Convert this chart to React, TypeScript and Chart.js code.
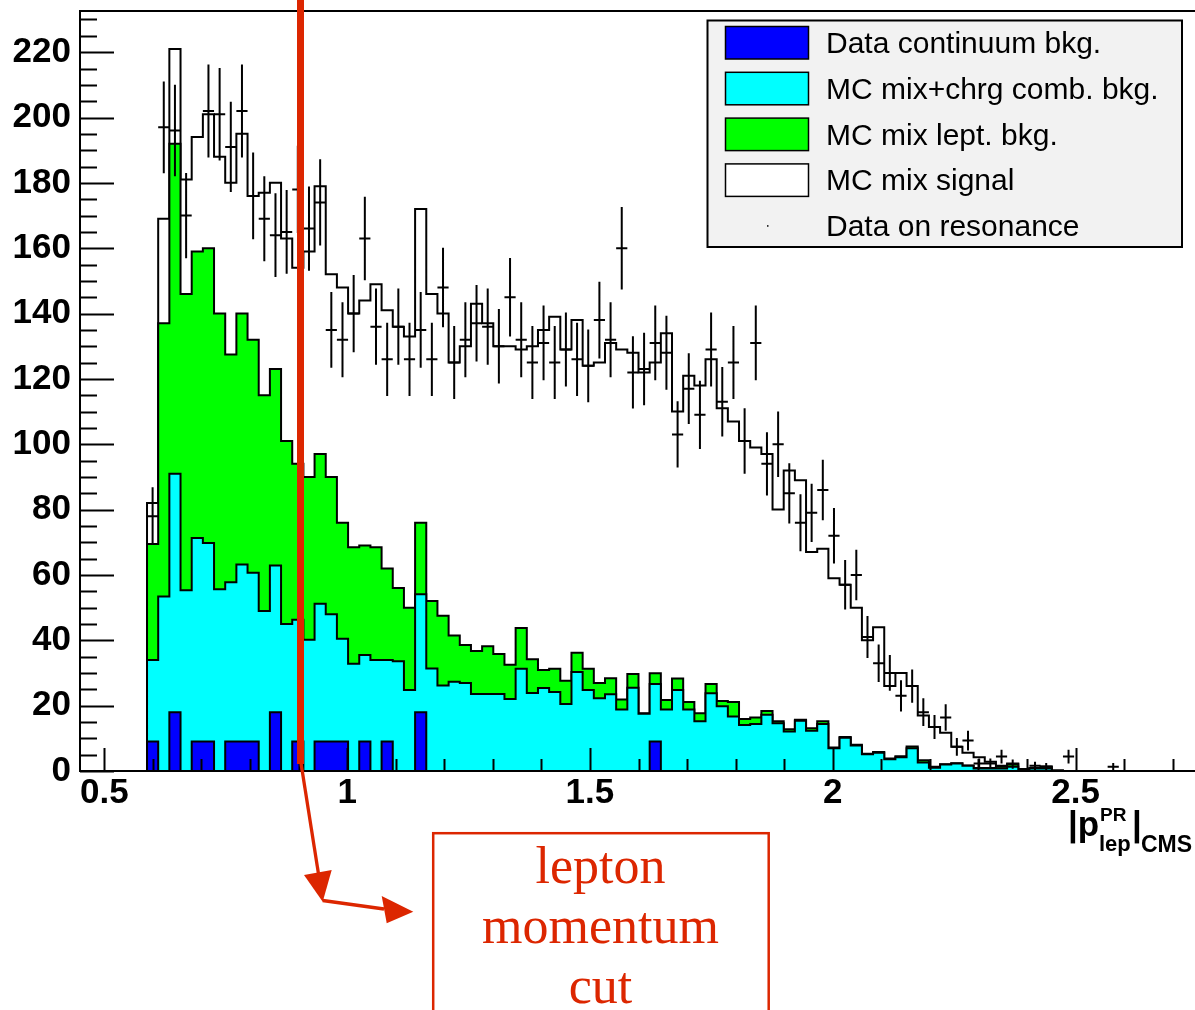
import React, { useEffect, useRef } from 'react';
import { Chart, registerables } from 'chart.js';

Chart.register(...registerables);

// ---------- histogram binning ----------
const BIN_LOW = 0.45;
const BIN_WIDTH = 0.023;
const FIRST_BIN = 6; // first drawn bin (bins below are empty)

// ---------- stack tops per bin (cumulative), bins 6 .. 92 ----------
const continuumTop = [
  9, 0, 18, 0, 9, 9, 0, 9, 9, 9,
  0, 18, 0, 9, 0, 9, 9, 9, 0, 9,
  0, 9, 0, 0, 18, 0, 0, 0, 0, 0,
  0, 0, 0, 0, 0, 0, 0, 0, 0, 0,
  0, 0, 0, 0, 0, 9, 0, 0, 0, 0,
  0, 0, 0, 0, 0, 0, 0, 0, 0, 0,
  0, 0, 0, 0, 0, 0, 0, 0, 0, 0,
  0, 0, 0, 0, 0, 0, 0, 0, 0, 0,
  0, 0, 0, 0, 0, 0, 0,
];
const combTop = [
  34, 53.4, 91, 55.3, 71.3, 69.8, 55.6, 57.8, 63.2, 60.7,
  49, 62.9, 45, 46.3, 40.2, 51.2, 48, 40.5, 32.8, 35.5,
  34, 34, 33.6, 24.8, 54.1, 31.4, 26.2, 27.3, 26.9, 23.6,
  23.6, 23.6, 22, 31.3, 23.9, 25.4, 24.2, 20.5, 30.3, 24.8,
  22.3, 23.5, 18.8, 25.5, 17.5, 26.6, 18.8, 24.8, 18.8, 15.2,
  23.8, 19.8, 16.7, 14.1, 14.4, 17.2, 14.6, 12.1, 15.4, 12.3,
  14.4, 7, 10.2, 7.8, 5.1, 5.6, 3.6, 4.2, 7, 2.6,
  1.0, 2.0, 2.3, 1.6, 0.8, 0.8, 0.8, 1.3, 0.4, 0.8,
  0.8, 0, 0, 0, 0, 0, 0,
];
const leptTop = [
  69.5, 137, 192, 146, 159, 160, 140, 127.5, 140, 132,
  115, 123, 101, 94, 90, 97, 90, 76, 68.5, 69,
  68.5, 62, 56, 50, 76, 52, 47.5, 41.5, 38.6, 36.7,
  38.2, 35.8, 32.5, 43.8, 34.2, 30.9, 31.3, 27.6, 36.2, 31.3,
  26.9, 28.4, 21.9, 29.7, 17.7, 29.9, 21.7, 28.3, 21.1, 17.7,
  26.6, 21.4, 21.1, 15.9, 16.4, 18.4, 15.2, 12.8, 15.7, 13.1,
  15.2, 7.2, 10.4, 8, 5.3, 5.8, 3.8, 4.5, 7.5, 3.3,
  1.3, 2.1, 2.4, 1.7, 0.9, 0.9, 1.3, 2.1, 0.5, 0.8,
  1.3, 0, 0, 0, 0, 0, 0,
];
const signalTop = [
  82, 169, 221, 181, 194, 201, 188, 180, 195, 176,
  177, 180, 163, 154, 159, 179, 152, 148, 140, 144,
  149, 141, 136, 133, 172, 146, 140, 125, 130, 143,
  137, 130, 130, 129, 130, 135, 139, 129, 138, 124,
  125, 131, 129, 128, 122, 125, 134, 110, 121, 118,
  126, 111, 107, 101, 99, 97, 80, 92, 89, 67,
  68, 59, 57, 50, 40, 44, 26, 30, 26, 17,
  13.5, 11.7, 7.4, 5.6, 4.2, 2.8, 1.6, 2.3, 0.6, 0.9,
  1.4, 0.2, 0, 0, 0, 0, 0,
];
const dataOnResonance = [
  78, 197, 196, 170, null, 202, 201, 191, 202, 176,
  169, 164, 165, 178, 166, 174, 135, 132, 140, 163,
  136, 126, 136, 126, 135, 126, 148, 125, 132, 137,
  136, 130, 145, 132, 125, 131, 125, 129, 126, 124,
  138, 132, 160, 122, 123, 131, 128, 103, 117, 109,
  129, 113, 125, 101, 131, 94, 100, 85, 76, 79,
  86, 72, 57, 60, 41, 33, 30, 23, 26, 18,
  13.5, 16.4, 7.4, 9.3, 2.3, 2.3, 4.4, 2.1, null, 1.6,
  1.3, null, 4.4, null, null, null, 1.3,
];

// ---------- axes / legend ----------
const xTickValues = [0.5, 1, 1.5, 2, 2.5];
const yTickValues = [0, 20, 40, 60, 80, 100, 120, 140, 160, 180, 200, 220];
const legendLabels = [
  'Data continuum bkg.',
  'MC mix+chrg comb. bkg.',
  'MC mix lept. bkg.',
  'MC mix signal',
  'Data on resonance',
];
const legendColors = ['#0000ff', '#00ffff', '#00ff00', '#ffffff'];
const annotationLines = ['lepton', 'momentum', 'cut'];

const RED = '#dc2600';
const SANS = "'Liberation Sans', Arial, Helvetica, sans-serif";
const SERIF = "'Liberation Serif', 'Times New Roman', serif";

function binEdge(i: number) {
  return BIN_LOW + BIN_WIDTH * (FIRST_BIN + i);
}

function stepPoints(tops: number[]) {
  const pts: { x: number; y: number }[] = [{ x: binEdge(0), y: 0 }];
  tops.forEach((v, i) => pts.push({ x: binEdge(i), y: v }));
  pts.push({ x: binEdge(tops.length), y: 0 });
  return pts;
}

function errorBarPoints(vals: (number | null)[]) {
  const pts: { x: number; y: number | null }[] = [];
  vals.forEach((v, i) => {
    if (v == null) return;
    const lo = binEdge(i);
    const hi = binEdge(i + 1);
    const c = (lo + hi) / 2;
    const e = Math.sqrt(v); // Poisson error of the counts
    pts.push({ x: c, y: v - e }, { x: c, y: v + e }, { x: c, y: null });
    pts.push({ x: lo, y: v }, { x: hi, y: v }, { x: c, y: null });
  });
  return pts;
}

const overlayPlugin = {
  id: 'rootOverlay',
  afterDatasetsDraw(chart: any) {
    const { ctx, chartArea: ca, scales } = chart;
    const xs = scales.x;
    const ys = scales.y;
    ctx.save();
    ctx.strokeStyle = '#000';
    ctx.lineWidth = 2;
    // frame
    ctx.strokeRect(ca.left, ca.top, ca.right - ca.left, ca.bottom - ca.top);
    // x ticks (inward)
    ctx.beginPath();
    for (let k = 5; k <= 27; k++) {
      const v = k / 10;
      const px = Math.round(xs.getPixelForValue(v)) + 0.5;
      const major = k % 5 === 0;
      ctx.moveTo(px, ca.bottom);
      ctx.lineTo(px, ca.bottom - (major ? 23 : 12));
    }
    // y ticks (inward)
    for (let k = 0; k <= 46; k++) {
      const v = k * 5;
      const py = Math.round(ys.getPixelForValue(v)) + 0.5;
      if (py < ca.top) continue;
      const major = k % 4 === 0;
      ctx.moveTo(ca.left, py);
      ctx.lineTo(ca.left + (major ? 34 : 17), py);
    }
    ctx.stroke();
    ctx.restore();
  },
  afterDraw(chart: any) {
    const { ctx } = chart;
    ctx.save();

    // ---------- legend ----------
    const lx = 707.5, ly = 20.5, lw = 474.5, lh = 226.5;
    ctx.fillStyle = '#f2f2f2';
    ctx.fillRect(lx, ly, lw, lh);
    ctx.strokeStyle = '#000';
    ctx.lineWidth = 2;
    ctx.strokeRect(lx, ly, lw, lh);
    ctx.font = `30px ${SANS}`;
    ctx.textAlign = 'left';
    ctx.textBaseline = 'alphabetic';
    legendLabels.forEach((label, i) => {
      const cy = 42.5 + i * 45.8;
      if (i < legendColors.length) {
        ctx.fillStyle = legendColors[i];
        ctx.fillRect(725.5, cy - 16, 83, 32.5);
        ctx.lineWidth = 1.5;
        ctx.strokeStyle = '#000';
        ctx.strokeRect(725.5, cy - 16, 83, 32.5);
      } else {
        ctx.fillStyle = '#000';
        ctx.fillRect(767, cy - 0.5, 1.5, 1.5);
      }
      ctx.fillStyle = '#000';
      ctx.fillText(label, 826, cy + 10.5);
    });

    // ---------- x axis title |p^PR_lep|_CMS ----------
    ctx.fillStyle = '#000';
    ctx.font = `bold 35px ${SANS}`;
    ctx.fillText('|p', 1068, 836);
    ctx.font = `bold 19px ${SANS}`;
    ctx.fillText('PR', 1100, 821);
    ctx.font = `bold 22px ${SANS}`;
    ctx.fillText('lep', 1099, 851);
    ctx.font = `bold 35px ${SANS}`;
    ctx.fillText('|', 1132, 836);
    ctx.font = `bold 23px ${SANS}`;
    ctx.fillText('CMS', 1141, 852);

    // ---------- red annotation ----------
    ctx.fillStyle = RED;
    ctx.fillRect(297, 0, 7, 764);
    ctx.strokeStyle = RED;
    ctx.lineWidth = 3.3;
    ctx.lineCap = 'butt';
    ctx.beginPath();
    ctx.moveTo(300.5, 760);
    ctx.lineTo(318.5, 874);
    ctx.stroke();
    ctx.beginPath();
    ctx.moveTo(304, 875);
    ctx.lineTo(331.7, 870);
    ctx.lineTo(322.7, 901.7);
    ctx.closePath();
    ctx.fill();
    ctx.beginPath();
    ctx.moveTo(322.7, 900.5);
    ctx.lineTo(384, 909);
    ctx.stroke();
    ctx.beginPath();
    ctx.moveTo(381.7, 896);
    ctx.lineTo(386.7, 923.3);
    ctx.lineTo(413.3, 911.7);
    ctx.closePath();
    ctx.fill();

    ctx.lineWidth = 2.5;
    ctx.strokeRect(433.2, 833.2, 335.5, 220);
    ctx.font = `52px ${SERIF}`;
    ctx.textAlign = 'center';
    annotationLines.forEach((t, i) => {
      ctx.fillText(t, 600.5, 883 + i * 60);
    });

    ctx.restore();
  },
};

export default function App() {
  const ref = useRef<HTMLCanvasElement | null>(null);

  useEffect(() => {
    if (!ref.current) return;
    const tickFont = { family: SANS, size: 35, weight: 'bold' as const };
    const histo = (label: string, tops: number[], color: string) => ({
      label,
      data: stepPoints(tops),
      stepped: true,
      fill: 'origin',
      backgroundColor: color,
      borderColor: '#000',
      borderWidth: 2,
      borderJoinStyle: 'miter' as const,
      pointRadius: 0,
      tension: 0,
    });
    const chart = new Chart(ref.current, {
      type: 'line',
      data: {
        datasets: [
          {
            label: legendLabels[4],
            data: errorBarPoints(dataOnResonance),
            borderColor: '#000',
            borderWidth: 2,
            pointRadius: 0,
            fill: false,
            spanGaps: false,
            tension: 0,
          } as any,
          histo(legendLabels[0], continuumTop, legendColors[0]),
          histo(legendLabels[1], combTop, legendColors[1]),
          histo(legendLabels[2], leptTop, legendColors[2]),
          histo(legendLabels[3], signalTop, legendColors[3]),
        ],
      },
      options: {
        animation: false,
        responsive: false,
        devicePixelRatio: 1,
        events: [],
        layout: { padding: { left: 0, right: 3, top: 11, bottom: 179 } },
        plugins: { legend: { display: false }, tooltip: { enabled: false } },
        scales: {
          x: {
            type: 'linear',
            min: 0.45,
            max: 2.75,
            afterBuildTicks: (s: any) => {
              s.ticks = xTickValues.map((v) => ({ value: v }));
            },
            afterFit: (s: any) => {
              s.height = 60;
              s.paddingLeft = 0;
              s.paddingRight = 0;
            },
            grid: { display: false, drawTicks: false },
            border: { display: false },
            ticks: {
              callback: (v: any) => String(v),
              font: tickFont,
              color: '#000',
              padding: 1,
              maxRotation: 0,
              autoSkip: false,
            },
          },
          y: {
            type: 'linear',
            min: 0,
            max: 232.6,
            afterBuildTicks: (s: any) => {
              s.ticks = yTickValues.map((v) => ({ value: v }));
            },
            afterFit: (s: any) => {
              s.width = 80;
              s.paddingTop = 0;
              s.paddingBottom = 0;
            },
            grid: { display: false, drawTicks: false },
            border: { display: false },
            ticks: {
              callback: (v: any) => String(v),
              font: tickFont,
              color: '#000',
              padding: 9,
              autoSkip: false,
            },
          },
        },
      } as any,
      plugins: [overlayPlugin],
    });
    return () => chart.destroy();
  }, []);

  return (
    <div
      style={{
        position: 'absolute',
        left: 0,
        top: 0,
        width: 1195,
        height: 1010,
        overflow: 'hidden',
        background: '#ffffff',
      }}
    >
      <canvas ref={ref} width={1200} height={1010} style={{ display: 'block' }} />
    </div>
  );
}
